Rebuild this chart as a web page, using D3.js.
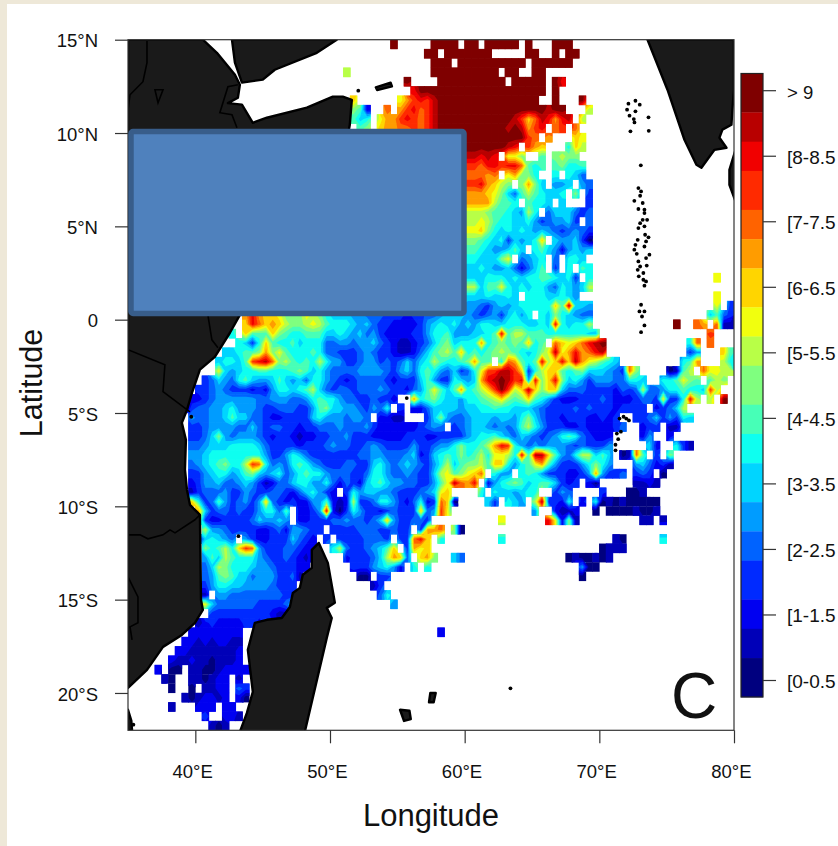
<!DOCTYPE html>
<html><head><meta charset="utf-8">
<script src="https://cdn.jsdelivr.net/npm/d3@7"></script>
<style>html,body{margin:0;padding:0;background:#fff}svg{display:block}text{font-family:"Liberation Sans",Arial,sans-serif;fill:#111}</style>
</head><body><svg id="c" width="838" height="846"></svg>
<script>
// classes, low to high
const classColors = ["#00007F","#0000B8","#0000F1","#002AFF","#0063FF","#009CFF","#00D5FF","#0EFFF0","#47FFB7","#7FFF7F","#B8FF47","#F1FF0E","#FFD500","#FF9C00","#FF6300","#FF2A00","#F10000","#B80000","#7F0000"];
const classCodes = "0123456789abcdefghi";
const legendLabels = ["[0-0.5","[1-1.5","[2-2.5","[3-3.5","[4-4.5","[5-5.5","[6-6.5","[7-7.5","[8-8.5","> 9"];
const legendSteps = [4,3,3,4,3,3,4,3,3,4,3,3,4,3,3,4,3,3,4];
const latTicks = [15,10,5,0,-5,-10,-15,-20];
const lonTicks = [40,50,60,70,80];
// half-degree grid: row (from 15N), column (from 35E), class codes; "." = no data
const cellRuns = [
[0,39,"i.....iiii .ii.iiiii. i...iii"],
[1,44,"ii.iiiiiii .....ii..i .ii"],
[2,45,"iii.iiiiii iiii.iiiii i"],
[3,32,"a"],[3,45,"iiiiiiiiii .ii..ii"],
[4,41,"i....iiiii iiiii.iiii i.ig"],
[5,42,"giiiiiiiii iiiiiiiiii .i"],
[6,33,"c"],[6,40,"bdfgfhiiii iiiiiiiiii i..i...i"],
[7,33,"982"],[7,38,"e.dfgefhii iiiiiiiiii iiiihii...a"],
[8,33,"867"],[8,37,"bddfgfefhi iiiiiiiiii hfcehgdgh. a"],
[9,34,"89"],[9,37,"cddeefefhi iiiiiiiiih ihdfg.ef.e"],
[10,50,"iiiiiiiiife .d...cb"],
[11,50,"iiiiiihg.fd c...7ca"],
[12,50,"hhghg.bb9.. 8.9a99"],
[13,50,"ffeggfgge87 8.89778"],
[14,50,"eeede.bd997 ..7.764"],
[15,50,"ffgdca9.9d9 6.556.54"],
[16,50,"dddcb9648a8 7667.9.3"],
[17,50,"dddda887.87 76.6...3"],
[18,50,"aaa988765a7 .4666434"],
[19,50,"aaba8776675 345563.4"],
[20,50,"bbc97676765 65434543"],
[21,50,"99876736567 c.655630"],
[22,50,"887655686.7 86525656"],
[23,50,"776669b.456 7.4.776"],
[24,50,"66765564246 8.3.7.87"],
[25,50,"66677767677 887673.7"],[25,87,"b"],
[26,50,"aa688b76767 75476 56a"],
[27,50,"66676676.77 766765"],[27,87,"b"],
[28,50,"55435656777 77c8h665"],[28,87,"b.3"],
[29,17,"dgdccb999b a976665544 4333233445 6"],[29,48,"665434536757.76976544"],[29,86,"6843"],
[30,17,"cgecdca99a ba87776564 3322223567 6"],[30,48,"7565776677 76676g7677 a"],[30,81,"i..ed.e11"],
[31,15,"7.c888c987 7888667656 4532222335 778"],[31,48,"55566 78g8a a8887 77777 66"],[31,86,"f"],
[32,16,"763 7c87786 7774455455 6432112346 89"],[32,48,"6777d78989 8c78.ecbce ghi"],[32,83,"7e.e"],
[33,14,"6678 89d9b8 7778744333 4543321124 689a"],[33,48,"8c78789a98 7679bhbdgd egh"],[33,83,"35...c8"],
[34,13,"6 7768fghe9 a87 87a7553 3455343 46 4 67a87"],[34,48,"789d88.7ed 87 8gacgch dba876"],[34,82,"78d...a7"],
[35,13,"b6 56778877 7 8986 7544 4455554356 47 8754"],[35,48,"634 7bffhhf c37acc87 89666543e9"],[35,80,"018a.ebbaa"],
[36,11,"346 5478655 68656 47754 3234 4443 2333 6853 3"],[36,48,"7656dghihf g5g9cg9675 35554477 6"],[36,79,"778b98.8a9"],
[37,10,"3345433323 2577678a64 3443444543 3245 8b86"],[37,48,"8d78acfifa chc9cc6444 3333243 4a4 45 77877 6fa"],
[38,8,"222345 5555 5445554457 8775443343 32..d7 8976"],[38,48,"6577 89ac98 9c87532223 3343222344 3b337ga.a.i"],
[39,8,"1344556755 5433444335 8966554354 7.3.2 24666"],[39,48,"6566778776 6654333343 4333233 33.2 3 4 6a"],
[40,9,"54455 68664 4322333 3 6755 545 54.2211.. .3695"],[40,48,"4456 6 656 65 796 43 3233 322 3 2 3..3346 35 3 76"],
[41,9,"3345555446 43443 3 2334 44544 4 5322222 2345 4"],[41,48,"3456 654 5 4 5 8a7 53 3322 3 2222 34..233.11"],
[42,9,"3346954555 4323321223 3445333222 223332233"],[42,48,"3356778654 6543457874 3222....25 ..2"],
[43,9,"4456667777 6433332333 4544334543 333533455"],[43,48,"7977 8adgf7 5454555434 3335.....6 2..731"],
[44,9,"5567777777 7533576433 3333344554 44562 3678"],[44,48,"7978a7bba7 g8hhc8547a a686.01e8. 3.9"],
[45,9,"456789 77af e74547875 4 3334433675 456 5435 7a"],[45,48,"6899a8cc75 78bd853335 7975...564 231"],
[46,9,"33567756 89 6567457877 5444334775 4454336ab"],[46,48,"89bce.755. 7875333223 5d53 34.343 .0"],
[47,9,"2355644565 3124467755 7424326786 5544335 8b"],[47,48,"hedg.25789 8678863 23. 20.....1121"],
[48,9,"1344453354 3344324675 32.3756655 43334 56bc"],[48,52,"7.7665677. .354....3. ..001"],
[49,9,"c734853453 5c43232255 8212a33477 5324723ec"],[49,48,"0"],[49,53,"63.765.a h33 27.2.7 010100000"],
[50,10,"d634434335 7748.22 35g 2 0375332 34 3 33c45fb"],[50,60,"5"],[50,63,"2112"],[50,69,"0"],[50,71,"00001001"],
[51,10,"a32233 3346 5565.22333 4454434 6c5 33443"],[51,55,"b"],[51,62,"gb291"],[51,76,"11.1"],
[52,11,"a55433 3322 3425543 3.3 3 3344 4 33 4 33 .3dde.90"],
[53,10,"2676 54.532 2333643 2.3 .3333 44 43. 33egc.7"],[53,55,"7"],[53,72,"10"],[53,79,"7"],
[54,11,"978a7cfe53 33 44 3 22..7 a4 33 4 5 6 8c. 3dbc"],[54,70,"0111"],
[55,11,"586a877754 3343 2 13... .233 34 6adc4 .cd9..64"],[55,65,"0100101"],
[56,11,"46a9777655 433322"],[56,33,"33356752"],[56,42,"7.7"],[56,67,"500"],
[57,11,"4589866455 53341"],[57,34,"00.33"],[57,67,"0"],
[58,11,"3577665555 4333"],[58,36,"13"],
[59,11,"1.55444444 4433"],[59,37,"47"],
[60,11,"b644444433 3346"],[60,39,"5"],
[61,12,"3333333332 11"],
[62,10,"1232222332 3"],
[63,9,"22222222"],[63,46,"2"],
[64,8,"221212211"],
[65,7,"2211111112"],
[66,6,"21121101112"],
[67,4,"2.00.11001 22222"],
[68,5,"10..110122 .1"],
[69,6,"0..0.1122. 43"],
[70,8,"1012212.20"],
[71,6,"1...222.22"],
[72,11,"3..221"],
[73,12,"101"]
];
// coastlines and borders, [lon, lat]
const africa = [[35,15],[40.56,15],[41.6,14.3],[42.94,13.12],[43.31,12.59],[43.16,11.89],[42.42,11.6],[43.46,11.52],[44.27,10.55],[45.31,10.82],[48.28,11.36],[50.21,11.95],[50.95,11.95],[51.62,11.78],[51.47,10.44],[50.73,7.5],[47.76,3.75],[44.05,0.53],[43.31,0.26],[42.57,-0.7],[41.45,-1.99],[40.34,-2.68],[39.75,-3.92],[39.38,-4.83],[39,-5.53],[39.3,-6.44],[39.23,-8.04],[39.38,-9.12],[39.6,-9.92],[40.34,-10.46],[40.42,-15.01],[40.56,-15.55],[39.97,-16.24],[39,-16.89],[37.6,-17.53],[36.41,-18.76],[35,-19.73]];
const arabia = [[42.72,15],[42.94,13.77],[43.46,12.7],[45.01,12.86],[45.9,13.39],[49.02,14.3],[50.5,15]];
const madagascar = [[49.17,-11.96],[49.84,-13.03],[50.36,-15.17],[49.76,-15.44],[50.13,-15.98],[49.76,-17.05],[48.13,-22.08],[43.31,-22.08],[43.83,-21.07],[44.27,-19.94],[43.9,-17.69],[44.42,-16.24],[45.31,-16.08],[46.42,-15.98],[47.02,-15.39],[47.24,-14.64],[47.76,-14.37],[47.98,-13.67],[48.65,-13.3],[48.65,-12.33]];
const india = [[73.58,15],[75.06,12.32],[76.32,9.64],[77.21,8.3],[77.58,8.14],[78.17,8.73],[78.55,9.1],[79.44,9.21],[78.92,9.75],[79.14,10.18],[79.81,10.44],[79.88,11.25],[80,12.32],[80,15]];
const sriLanka = [[80.2,9.3],[79.66,8.03],[79.66,7.23],[80.2,6.16]];
const socotra = [[53.4,12.45],[54.5,12.7],[54.6,12.5],[53.5,12.3]];
const reunion = [[55.2,-20.9],[55.9,-20.95],[56,-21.4],[55.5,-21.5]];
const mauritius = [[57.45,-20],[57.85,-20],[57.7,-20.5],[57.35,-20.5]];
const southSliver = [[35,-20.9],[35.25,-21.5],[35.3,-22],[35,-22]];
const tana = [[37,12.32],[37.6,12.32],[37.23,11.62]];
const borders = [
[[36.41,15],[36.41,13.77],[36.11,12.75],[35.15,12.05],[35,11.25]],
[[43.16,12.59],[42.42,12.48],[41.82,11.09],[42.72,10.98],[43.09,10.28]],
[[40.93,0.26],[41.23,-1.08],[41.68,-1.51]],
[[35,-1.61],[37.74,-2.42],[37.6,-3.86],[39.6,-4.94]],
[[35,-11.53],[35.89,-11.53],[36.48,-11.74],[37.6,-11.53],[38.12,-11.26],[38.49,-11.42],[39.97,-10.72],[40.34,-10.46]],
[[35,-13.78],[35.74,-14.85],[35.74,-16.24],[35.15,-16.46],[35.3,-17.15]]
];
const islets = [[72.16,11.57],[72.68,11.73],[73,11.52],[72.06,11.25],[72.68,11.16],[72.24,10.93],[72.56,10.75],[72.61,10.57],[73.65,10.84],[72.31,10.09],[73.67,10.12],[73.08,8.27],
[72.9,7.05],[73.1,6.87],[73.03,6.64],[72.6,6.37],[73.22,6.25],[72.9,5.93],[73.35,5.89],[73.35,5.71],[73.22,5.35],[73.55,5.35],[73.03,5.17],[73.35,5],[72.9,4.91],[73.4,4.55],[73.65,4.41],[72.85,4.28],[73.47,4.19],[72.68,4.01],[73.35,3.92],[72.6,3.75],[72.78,3.53],[73.72,3.48],[73.47,3.3],[72.9,3.12],[73.03,2.85],[73.52,2.9],[72.85,2.67],[73.27,2.5],[72.93,2.32],[73.27,2.14],[73.47,2.05],[73.35,1.82],[73.1,0.8],[72.98,0.44],[73.35,0.44],[73.17,0.17],[73.35,-0.31],[73.1,-0.67],
[71.5,-5.3],[71.8,-5.2],[72,-5.3],[72.2,-5.4],[71.6,-6],[71.3,-6.1],[71.4,-6.4],[71.2,-6.7],[71.2,-7],
[52.1,12.27],[43.2,-11.6],[39.7,-5.2],[55.7,-4.2],[35.4,-21.7],[63.4,-19.75]];

const NX = 90, NY = 74, NONE = -1;
const x = d3.scaleLinear().domain([35,80]).range([128,734]);
const y = d3.scaleLinear().domain([15,-22]).range([39.7,730.3]);
const gridX = d3.scaleLinear().domain([0,NX]).range([x(35),x(80)]);
const gridY = d3.scaleLinear().domain([0,NY]).range([y(15),y(-22)]);
const legendY = d3.scaleLinear().domain([18,0]).range([90.7,680.5]);

const grid = new Array(NX*NY).fill(NONE);
cellRuns.forEach(([r,c0,s])=>{
  s.replace(/ /g,"").split("").forEach((ch,i)=>{
    const k = classCodes.indexOf(ch);
    if(k>=0 && c0+i<NX) grid[r*NX+c0+i]=k;
  });
});
// gaps borrow from their neighbours so the contour surface has no cliffs; they stay clipped out
let filled = grid.slice();
for(let pass=0;pass<60;pass++){
  const next = filled.slice(); let open=false;
  for(let r=0;r<NY;r++)for(let c=0;c<NX;c++){
    if(filled[r*NX+c]!==NONE) continue;
    const n=[];
    for(const [dr,dc] of [[0,1],[0,-1],[1,0],[-1,0]]){
      const rr=r+dr,cc=c+dc;
      if(rr>=0&&rr<NY&&cc>=0&&cc<NX&&filled[rr*NX+cc]!==NONE) n.push(filled[rr*NX+cc]);
    }
    if(n.length) next[r*NX+c]=d3.mean(n); else open=true;
  }
  filled=next; if(!open) break;
}
filled=filled.map(v=>v===NONE?0:v);

const svg = d3.select("#c");
svg.append("rect").attr("width",838).attr("height",846).attr("fill","#EEE8D8");
svg.append("rect").attr("x",7).attr("y",4).attr("width",831).attr("height",842).attr("fill","#fff");
const defs = svg.append("defs");
defs.append("clipPath").attr("id","plot").append("rect").attr("x",x(35)).attr("y",y(15)).attr("width",x(80)-x(35)).attr("height",y(-22)-y(15));
const cells=[];
grid.forEach((v,i)=>{ if(v!==NONE) cells.push({r:Math.floor(i/NX),c:i%NX,v}); });
defs.append("clipPath").attr("id","valid").selectAll("rect").data(cells).join("rect")
  .attr("x",d=>gridX(d.c)-0.3).attr("y",d=>gridY(d.r)-0.1).attr("width",gridX(1)-gridX(0)+0.6).attr("height",gridY(1)-gridY(0)+0.2);

const plot = svg.append("g").attr("clip-path","url(#plot)");
plot.append("g").selectAll("rect").data(cells).join("rect")
  .attr("x",d=>gridX(d.c)-0.3).attr("y",d=>gridY(d.r)-0.1).attr("width",gridX(1)-gridX(0)+0.6).attr("height",gridY(1)-gridY(0)+0.2)
  .attr("fill",d=>classColors[d.v]);
const contourGen = d3.contours().size([NX,NY]).thresholds(d3.range(0.5,18.5,1));
const proj = d3.geoTransform({point(px,py){this.stream.point(gridX(px),gridY(py));}});
const geo = d3.geoPath(proj);
plot.append("g").attr("clip-path","url(#valid)").selectAll("path").data(contourGen(filled)).join("path")
  .attr("d",geo).attr("fill",d=>classColors[Math.round(d.value+0.5)]);

const line = d3.line().x(d=>x(d[0])).y(d=>y(d[1]));
const closed = d3.line().x(d=>x(d[0])).y(d=>y(d[1])).curve(d3.curveLinearClosed);
const land = plot.append("g");
[africa,arabia,madagascar,india,sriLanka,socotra,reunion,mauritius,southSliver].forEach(poly=>{
  land.append("path").attr("d",closed(poly)).attr("fill","#1a1a1a").attr("stroke","#000").attr("stroke-width",2.4).attr("stroke-linejoin","round");
});
land.append("path").attr("d",closed(tana)).attr("fill","none").attr("stroke","#000").attr("stroke-width",1.6);
borders.forEach(b=>land.append("path").attr("d",line(b)).attr("fill","none").attr("stroke","#000").attr("stroke-width",1.6));
land.selectAll("circle").data(islets).join("circle").attr("cx",d=>x(d[0])).attr("cy",d=>y(d[1])).attr("r",1.9).attr("fill","#000");

svg.append("rect").attr("x",x(35)).attr("y",y(15)).attr("width",x(80)-x(35)).attr("height",y(-22)-y(15)).attr("fill","none").attr("stroke","#333").attr("stroke-width",1.2);

function degLabel(sel,fmt){
  sel.each(function(d){
    const t=d3.select(this); t.text(null);
    const [num,hemi]=fmt(d);
    t.text(hemi? num+"\u00B0"+hemi : num);
  });
}
const yAxis = svg.append("g").attr("transform",`translate(${x(35)},0)`).call(d3.axisLeft(y).tickValues(latTicks).tickSize(13).tickPadding(17));
yAxis.select(".domain").remove();
yAxis.selectAll("line").attr("stroke","#333").attr("stroke-width",1.2);
yAxis.selectAll("text").attr("font-size",18.5).attr("dy","0.38em").attr("letter-spacing","0").call(degLabel,d=>d===0?["0",""]:[String(Math.abs(d)),d>0?"N":"S"]);
const xAxis = svg.append("g").attr("transform",`translate(0,${y(-22)})`).call(d3.axisBottom(x).tickValues(lonTicks).tickSize(13).tickPadding(22));
xAxis.select(".domain").remove();
xAxis.selectAll("line").attr("stroke","#333").attr("stroke-width",1.2);
xAxis.selectAll("text").attr("font-size",18.5).attr("text-anchor","end").attr("dx","17").call(degLabel,d=>[String(d),"E"]);

svg.append("text").attr("x",431).attr("y",826).attr("text-anchor","middle").attr("font-size",31).text("Longitude");
svg.append("text").attr("transform","translate(42,383) rotate(-90)").attr("text-anchor","middle").attr("font-size",30.5).text("Latitude");
svg.append("text").attr("x",671).attr("y",718).attr("font-size",64).text("C");

// overlay box
svg.append("rect").attr("x",131).attr("y",131.5).attr("width",333).attr("height",182).attr("rx",2).attr("fill","#4F81BD").attr("stroke","#385D8A").attr("stroke-width",5.5);

// legend
const barTop=73.5, stepH=(697-73.5)/64;
const legend = svg.append("g");
let acc=0;
legendSteps.forEach((n,i)=>{
  legend.append("rect").attr("x",741).attr("y",barTop+acc*stepH).attr("width",22).attr("height",n*stepH+0.3).attr("fill",classColors[18-i]);
  acc+=n;
});
legend.append("rect").attr("x",741).attr("y",barTop).attr("width",22).attr("height",697-barTop).attr("fill","none").attr("stroke","#222").attr("stroke-width",1.2);
legendLabels.forEach((lab,i)=>{
  const ly=legendY(i*2);
  legend.append("line").attr("x1",763).attr("x2",776).attr("y1",ly).attr("y2",ly).attr("stroke","#333").attr("stroke-width",1.2);
  legend.append("text").attr("x",787).attr("y",ly+(i===9?8:7.5)).attr("font-size",i===9?18.5:19).text(lab);
});
</script></body></html>
